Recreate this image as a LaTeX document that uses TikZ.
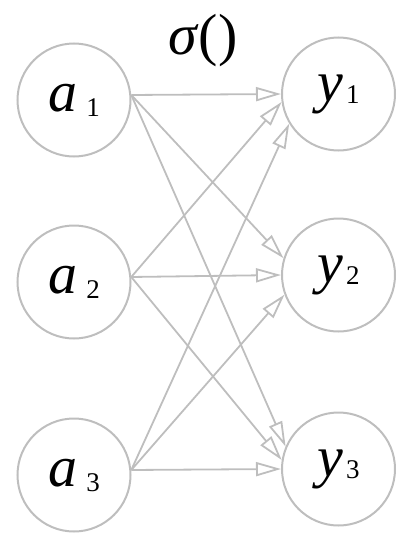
\documentclass[tikz,border=0pt]{standalone}
\usepackage{fontspec}
\setmainfont{Liberation Serif}
\usetikzlibrary{arrows.meta}
\definecolor{nodegray}{RGB}{190,190,190}
\newcommand{\nodeidx}[2][3pt]{{\fontsize{27}{30}\selectfont\raisebox{-#1}{#2}}}
\tikzset{
  neuron/.style={circle,draw=nodegray,line width=2pt,minimum size=113pt,inner sep=0pt,font=\fontsize{58}{60}\selectfont},
  synapse/.style={-{Triangle[open,length=25pt,width=14pt]},draw=nodegray,line width=1.8pt},
  actlabel/.style={font=\fontsize{58}{60}\selectfont,inner sep=0pt}
}

\begin{document}
\begin{tikzpicture}[x=1pt,y=-1pt]
\useasboundingbox (0,0) rectangle (411,535);
\node[neuron] (a1) at (74,100) {\textit{a}\hspace{9pt}\nodeidx[5pt]{1}};
\node[neuron] (a2) at (74,282) {\textit{a}\hspace{9pt}\nodeidx[5pt]{2}};
\node[neuron] (a3) at (74,475) {\textit{a}\hspace{9pt}\nodeidx[5pt]{3}};
\node[neuron] (y1) at (338.5,94) {\textit{y}\hspace{3pt}\nodeidx[2pt]{1}};
\node[neuron] (y2) at (338.5,275) {\textit{y}\hspace{3pt}\nodeidx[2pt]{2}};
\node[neuron] (y3) at (338.5,469) {\textit{y}\hspace{3pt}\nodeidx[2pt]{3}};
\node[actlabel] (act) at (203,41) {\textit{σ}()};
\draw[synapse] (a1.5)--(y1.180);
\draw[synapse] (a1.5)--(y2.163);
\draw[synapse] (a1.5)--(y3.157);
\draw[synapse] (a2.5)--(y1.188);
\draw[synapse] (a2.5)--(y2.180);
\draw[synapse] (a2.5)--(y3.171);
\draw[synapse] (a3.5)--(y1.211);
\draw[synapse] (a3.5)--(y2.200);
\draw[synapse] (a3.5)--(y3.180);
\end{tikzpicture}
\end{document}
